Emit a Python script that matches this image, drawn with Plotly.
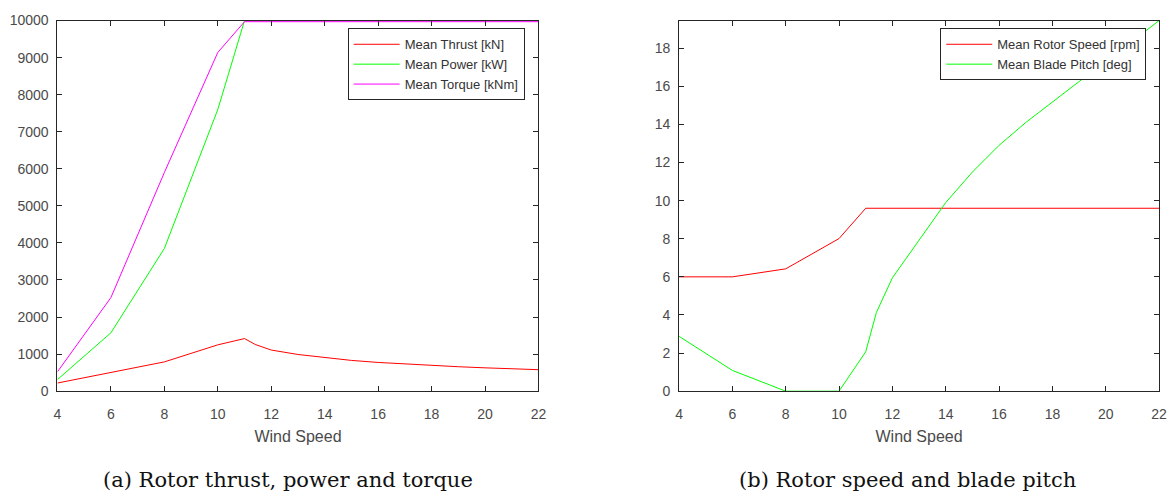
import plotly.graph_objects as go
from plotly.subplots import make_subplots

# Wind speed samples [m/s]
wind = [4, 6, 8, 10, 11, 11.4, 12, 13, 14, 15, 16, 17, 18, 19, 20, 21, 22]

# Rotor loads
thrust = [220, 500, 790, 1250, 1420, 1260, 1110, 990, 900, 830, 775, 730, 690, 660, 630, 605, 580]
power = [313, 1575, 3850, 7600, 10000, 10000, 10000, 10000, 10000, 10000, 10000, 10000, 10000,
         10000, 10000, 10000, 10000]
torque = [522, 2525, 5900, 9140, 9970, 9970, 9970, 9970, 9970, 9970, 9970, 9970, 9970,
          9970, 9970, 9970, 9970]

# Rotor speed and blade pitch
rotor_speed = [6.0, 6.0, 6.42, 8.01, 9.6, 9.6, 9.6, 9.6, 9.6, 9.6, 9.6, 9.6, 9.6, 9.6, 9.6, 9.6, 9.6]
blade_pitch = [2.88, 1.09, 0.0, 0.0, 2.07, 4.13, 5.95, 7.9, 9.9, 11.5, 12.9, 14.1, 15.2,
               16.25, 17.3, 18.4, 19.45]

xticks = [4, 6, 8, 10, 12, 14, 16, 18, 20, 22]
left_yticks = [0, 1000, 2000, 3000, 4000, 5000, 6000, 7000, 8000, 9000, 10000]
right_yticks = [0, 2, 4, 6, 8, 10, 12, 14, 16, 18]

W, H = 1176, 494
AX = "#262626"
TXT = "#4a4a4a"
FONT = "Liberation Sans, Arial, sans-serif"

fig = make_subplots(rows=1, cols=2)

fig.add_trace(go.Scatter(x=wind, y=thrust, mode="lines", name="Mean Thrust [kN]",
                         line=dict(color="#ff0000", width=1), legend="legend"), row=1, col=1)
fig.add_trace(go.Scatter(x=wind, y=power, mode="lines", name="Mean Power [kW]",
                         line=dict(color="#00ff00", width=1), legend="legend"), row=1, col=1)
fig.add_trace(go.Scatter(x=wind, y=torque, mode="lines", name="Mean Torque [kNm]",
                         line=dict(color="#ff00ff", width=1), legend="legend"), row=1, col=1)

fig.add_trace(go.Scatter(x=wind, y=rotor_speed, mode="lines", name="Mean Rotor Speed [rpm]",
                         line=dict(color="#ff0000", width=1), legend="legend2"), row=1, col=2)
fig.add_trace(go.Scatter(x=wind, y=blade_pitch, mode="lines", name="Mean Blade Pitch [deg]",
                         line=dict(color="#00ff00", width=1), legend="legend2"), row=1, col=2)

ydom = [(H - 396) / H, (H - 13) / H]
x1dom = [54 / W, 540 / W]
x2dom = [682 / W, 1167 / W]

axis_style = dict(showline=True, linecolor=AX, linewidth=1, mirror="ticks",
                  ticks="inside", ticklen=5, tickcolor=AX, tickwidth=1,
                  showgrid=False, zeroline=False,
                  tickfont=dict(family=FONT, size=14, color=TXT))

fig.update_xaxes(axis_style, range=[4, 22], tickvals=xticks, ticklabelstandoff=10,
                 title=dict(text="Wind Speed", font=dict(family=FONT, size=16, color=TXT), standoff=9))
fig.update_xaxes(domain=x1dom, row=1, col=1)
fig.update_xaxes(domain=x2dom, row=1, col=2)
fig.update_yaxes(axis_style, domain=ydom, ticklabelstandoff=5, tickformat="d")
fig.update_yaxes(range=[0, 10000], tickvals=left_yticks, row=1, col=1)
fig.update_yaxes(range=[0, 19.45], tickvals=right_yticks, row=1, col=2)

legend_style = dict(bgcolor="white", bordercolor=AX, borderwidth=1,
                    font=dict(family=FONT, size=13, color="#333333"),
                    xanchor="right", yanchor="top", itemwidth=46,
                    tracegroupgap=0)

fig.update_layout(
    width=W, height=H,
    margin=dict(l=0, r=0, t=0, b=0),
    plot_bgcolor="white", paper_bgcolor="white",
    showlegend=True,
    legend=dict(legend_style, x=526 / W, y=1 - 21 / H),
    legend2=dict(legend_style, x=1154 / W, y=1 - 21 / H),
    annotations=[
        dict(text="(a) Rotor thrust, power and torque", x=287 / W, y=1 - 488 / H,
             xref="paper", yref="paper", showarrow=False, xanchor="center", yanchor="middle",
             font=dict(family="DejaVu Serif, serif", size=21, color="#111111")),
        dict(text="(b) Rotor speed and blade pitch", x=913 / W, y=1 - 488 / H,
             xref="paper", yref="paper", showarrow=False, xanchor="center", yanchor="middle",
             font=dict(family="DejaVu Serif, serif", size=21, color="#111111")),
    ],
)

fig.write_html("out.html")
